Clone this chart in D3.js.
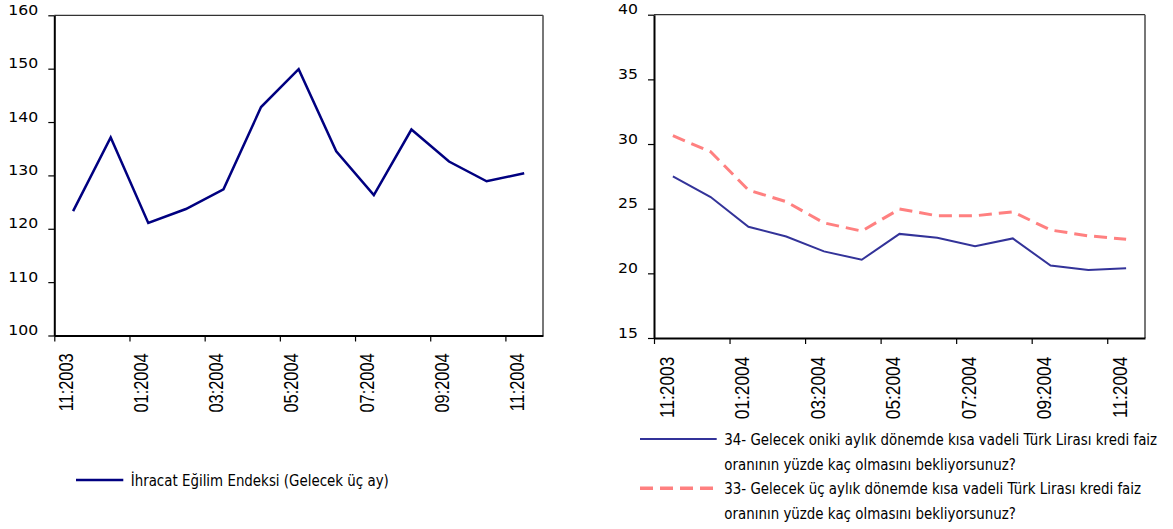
<!DOCTYPE html>
<html><head><meta charset="utf-8">
<script src="https://cdn.jsdelivr.net/npm/d3@7"></script>
<style>body{margin:0;background:#fff}svg{display:block}</style>
</head><body>
<svg id="c" width="1173" height="529"></svg>
<script>
// ---- data ----
const months = ["11:2003","12:2003","01:2004","02:2004","03:2004","04:2004","05:2004","06:2004","07:2004","08:2004","09:2004","10:2004","11:2004"];
const tickMonths = ["11:2003","01:2004","03:2004","05:2004","07:2004","09:2004","11:2004"];
const ihracat = [123.3, 137.1, 121.1, 123.7, 127.4, 142.8, 149.9, 134.5, 126.3, 138.6, 132.6, 128.9, 130.4];
const faiz12 = [27.5, 25.9, 23.6, 22.85, 21.7, 21.05, 23.05, 22.75, 22.1, 22.7, 20.6, 20.25, 20.4];
const faiz3 = [30.64, 29.4, 26.44, 25.54, 23.9, 23.27, 24.97, 24.45, 24.45, 24.76, 23.35, 22.9, 22.63];
const leftTicks = [100, 110, 120, 130, 140, 150, 160];
const rightTicks = [15, 20, 25, 30, 35, 40];
const leftLegend = "İhracat Eğilim Endeksi (Gelecek üç ay)";
const rightLegend = [
  ["34- Gelecek oniki aylık dönemde kısa vadeli Türk Lirası kredi faiz", "oranının yüzde kaç olmasını bekliyorsunuz?"],
  ["33- Gelecek üç aylık dönemde kısa vadeli Türk Lirası kredi faiz", "oranının yüzde kaç olmasını bekliyorsunuz?"]
];

const svg = d3.select("#c");
svg.append("rect").attr("width",1173).attr("height",529).attr("fill","#fff");
const LBL_FONT = "'DejaVu Sans', Verdana, sans-serif";

function panel(cfg){
  const x = d3.scaleLinear().domain([0, months.length]).range([cfg.x0, cfg.x1]);
  const y = d3.scaleLinear().domain(cfg.yDomain).range([cfg.yBottom, cfg.yTop]);
  const g = svg.append("g");
  // frame top/right
  g.append("line").attr("x1",cfg.x0).attr("x2",cfg.x1).attr("y1",cfg.yTop).attr("y2",cfg.yTop).attr("stroke","#333").attr("stroke-width",1.2);
  g.append("line").attr("x1",cfg.x1).attr("x2",cfg.x1).attr("y1",cfg.yTop).attr("y2",cfg.yBottom).attr("stroke","#555").attr("stroke-width",1.6);
  // y axis
  const ya = g.append("g").attr("transform",`translate(${cfg.x0},0)`)
    .call(d3.axisLeft(y).tickValues(cfg.yTicks).tickSize(6).tickSizeOuter(0).tickFormat(d3.format("d")));
  ya.select(".domain").attr("stroke","#000").attr("stroke-width",2);
  ya.selectAll(".tick line").attr("stroke","#000").attr("stroke-width",1.2);
  ya.selectAll(".tick text").remove();
  ya.selectAll(".tick").append("g").attr("transform","translate(-16,-1) scale(1.12,1)")
    .append("text").attr("text-anchor","end").attr("x",0).attr("y",0)
    .attr("font-family",LBL_FONT).attr("font-size",14).attr("fill","#000")
    .text(d=>d);
  // x axis
  const idx = tickMonths.map(m=>months.indexOf(m));
  const xa = g.append("g").attr("transform",`translate(0,${cfg.yBottom})`)
    .call(d3.axisBottom(x).tickValues(idx).tickSize(6).tickSizeOuter(0).tickFormat(i=>months[i]));
  xa.select(".domain").attr("stroke","#000").attr("stroke-width",2);
  xa.selectAll(".tick line").attr("stroke","#000").attr("stroke-width",1.2);
  xa.selectAll(".tick text").remove();
  xa.selectAll(".tick").append("g").attr("transform",`translate(${cfg.lblDx},${cfg.lblTop-cfg.yBottom}) rotate(-90) scale(1,${cfg.lblSy})`)
    .append("text").attr("text-anchor","end").attr("x",0).attr("y",0)
    .attr("font-family","'Liberation Sans', Arial, sans-serif").attr("font-size",cfg.lblSize).attr("fill","#000")
    .text(i=>months[i]);
  // lines
  cfg.series.forEach(s=>{
    const line = d3.line().x((d,i)=>x(i+0.5)).y(d=>y(d));
    g.append("path").datum(s.values).attr("d",line).attr("fill","none")
      .attr("stroke",s.color).attr("stroke-width",s.width)
      .attr("stroke-dasharray",s.dash||null).attr("stroke-linejoin","miter");
  });
}

panel({x0:54.3, x1:543, yTop:15.3, yBottom:335.5, yDomain:[100,160], yTicks:leftTicks,
  lblDx:18, lblTop:353.3, lblSize:16.4, lblSy:1.19,
  series:[{values:ihracat, color:"#000080", width:2.5}]});
panel({x0:654, x1:1145, yTop:14.7, yBottom:338, yDomain:[15,40], yTicks:rightTicks,
  lblDx:19.3, lblTop:356.7, lblSize:17.3, lblSy:1.13,
  series:[{values:faiz12, color:"#333399", width:2},{values:faiz3, color:"#FF8080", width:3, dash:"13,7"}]});

// ---- legends ----
const LEG_FONT = "'DejaVu Sans', Verdana, sans-serif";
function legText(x, yBase, str, sx){
  const gg = svg.append("g").attr("transform",`translate(${x},${yBase}) scale(${sx},1)`);
  return gg.append("text").attr("x",0).attr("y",0).attr("font-family",LEG_FONT).attr("font-size",15).attr("fill","#000").text(str);
}
// measure natural width to fit the reference width of the first legend row
const probe = legText(0,-100,rightLegend[0][0],1);
const natural = probe.node().getComputedTextLength();
d3.select(probe.node().parentNode).remove();
const sx = 433 / natural;

svg.append("line").attr("x1",76).attr("x2",123.3).attr("y1",480).attr("y2",480).attr("stroke","#000080").attr("stroke-width",2.5);
legText(130.7, 485.5, leftLegend, sx);

const legRows = [{y:439, color:"#333399", width:2, dash:null},{y:488.3, color:"#FF8080", width:3.5, dash:"13,7"}];
legRows.forEach((r,k)=>{
  svg.append("line").attr("x1",640).attr("x2",716.7).attr("y1",r.y).attr("y2",r.y)
    .attr("stroke",r.color).attr("stroke-width",r.width).attr("stroke-dasharray",r.dash);
  legText(724.3, r.y+5.5, rightLegend[k][0], sx);
  legText(724.3, r.y+30.5, rightLegend[k][1], sx);
});
</script>
</body></html>
